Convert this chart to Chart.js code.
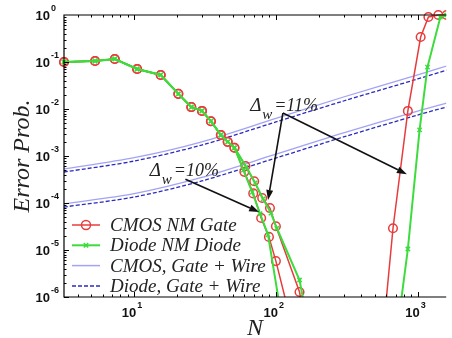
<!DOCTYPE html>
<html>
<head>
<meta charset="utf-8">
<script src="https://cdn.jsdelivr.net/npm/chart.js@4.4.1/dist/chart.umd.min.js"></script>
<style>
  html, body { margin: 0; padding: 0; background: #fff; overflow: hidden; }
  #wrap { width: 452px; height: 338px; }
</style>
</head>
<body>
<div id="wrap"><canvas id="errChart" width="452" height="338"></canvas></div>
<script>
// shared low-N part of the noise-margin curves
const nCommon = [3.2, 5.3, 7.3, 10.5, 15.4, 20.5, 25.3, 30.1, 34.8, 40.9, 45.7, 51];
const pCommon = [0.1, 0.105, 0.116, 0.071, 0.053, 0.021, 0.011, 0.0091, 0.0055, 0.0028, 0.002, 0.0015];

// tails, Δw = 10% and 11%
const nCmos10 = [59.9, 69.2, 78.7, 89.3, 100, 123];
const pCmos10 = [4.6e-4, 1.6e-4, 4.8e-5, 1.9e-5, 5.8e-6, 4.8e-7];
const nCmos11 = [61, 70.3, 80, 90.8, 100, 146.8, 154];
const pCmos11 = [6.1e-4, 2.9e-4, 1.28e-4, 7.8e-5, 3.2e-5, 1.28e-6, 5.4e-7];
const nDiode10 = [59, 68.1, 77.4, 88, 108];
const pDiode10 = [5.0e-4, 1.71e-4, 5.9e-5, 2.1e-5, 4.8e-7];
const nDiode11 = [61.9, 71.4, 81.3, 92.3, 101.6, 146.8, 161];
const pDiode11 = [5.8e-4, 2.67e-4, 1.22e-4, 6.1e-5, 2.9e-5, 2.3e-6, 5.3e-7];

// high-N rise
const nCmosHigh = [590, 670, 853, 1050, 1191, 1399, 1600];
const pCmosHigh = [5e-7, 2.9e-5, 9.1e-3, 0.34, 0.906, 1.0, 1.0];
const nDiodeHigh = [750, 853, 1032, 1173, 1445, 1600];
const pDiodeHigh = [5.3e-7, 1.05e-5, 3.6e-3, 0.078, 0.9, 1.0];

// gate + wire curves
const nWire = [3.2, 10, 30, 100, 300, 1000, 1700];
const pCmosWire11 = [5.3e-4, 9.2e-4, 2.0e-3, 6.3e-3, 0.018, 0.053, 0.087];
const pDiodeWire11 = [4.57e-4, 7.8e-4, 1.71e-3, 5.3e-3, 0.0148, 0.0435, 0.071];
const pCmosWire10 = [9.6e-5, 1.58e-4, 3.5e-4, 1.09e-3, 3.1e-3, 9.0e-3, 0.014];
const pDiodeWire10 = [8.2e-5, 1.34e-4, 2.94e-4, 9.06e-4, 2.54e-3, 7.45e-3, 0.0116];

const legendLabels = ['CMOS NM Gate', 'Diode NM Diode', 'CMOS, Gate + Wire', 'Diode, Gate + Wire'];
const yDecades = [-6, -5, -4, -3, -2, -1, 0];
const xDecades = [1, 2, 3];

const RED = '#e83c3c';
const GREEN = '#3ddc3d';
const LIGHT = '#a3a3f5';
const DARK = '#2b2bc0';

function pts(ns, ps) { return ns.map((n, i) => ({x: n, y: ps[i]})); }
const hideLow = c => (c.raw && (c.raw.y < 1e-6) ? 0 : 4.3);
const hideLowX = c => (c.raw && (c.raw.y < 1e-6) ? 0 : 3);
const clipBox = {left: 6, top: 6, right: 0, bottom: 0};

function nmSet(ns, ps, color, isCmos) {
    return {
        data: pts(ns, ps),
        borderColor: color,
        backgroundColor: 'rgba(0,0,0,0)',
        borderWidth: isCmos ? 1.5 : 2,
        pointStyle: isCmos ? 'circle' : 'crossRot',
        pointRadius: isCmos ? hideLow : hideLowX,
        pointBorderColor: color,
        pointBorderWidth: 1.5,
        pointBackgroundColor: 'rgba(0,0,0,0)',
        order: isCmos ? 2 : 1,
        clip: clipBox
    };
}
function wireSet(ps, dashed) {
    return {
        data: pts(nWire, ps),
        borderColor: dashed ? DARK : LIGHT,
        borderWidth: 1.3,
        borderDash: dashed ? [4, 2] : [],
        pointRadius: 0,
        tension: 0.3,
        order: 3
    };
}

const datasets = [
    nmSet(nCommon.concat(nCmos10), pCommon.concat(pCmos10), RED, true),
    nmSet(nCommon.concat(nCmos11), pCommon.concat(pCmos11), RED, true),
    nmSet(nCmosHigh, pCmosHigh, RED, true),
    nmSet(nCommon.concat(nDiode10), pCommon.concat(pDiode10), GREEN, false),
    nmSet(nCommon.concat(nDiode11), pCommon.concat(pDiode11), GREEN, false),
    nmSet(nDiodeHigh, pDiodeHigh, GREEN, false),
    wireSet(pCmosWire11, false),
    wireSet(pDiodeWire11, true),
    wireSet(pCmosWire10, false),
    wireSet(pDiodeWire10, true)
];

function arrow(ctx, x1, y1, x2, y2) {
    const ang = Math.atan2(y2 - y1, x2 - x1);
    const L = 10, W = 3.5;
    ctx.beginPath();
    ctx.moveTo(x1, y1);
    ctx.lineTo(x2 - L * Math.cos(ang), y2 - L * Math.sin(ang));
    ctx.stroke();
    ctx.beginPath();
    ctx.moveTo(x2, y2);
    ctx.lineTo(x2 - L * Math.cos(ang) + W * Math.sin(ang), y2 - L * Math.sin(ang) - W * Math.cos(ang));
    ctx.lineTo(x2 - L * Math.cos(ang) - W * Math.sin(ang), y2 - L * Math.sin(ang) + W * Math.cos(ang));
    ctx.closePath();
    ctx.fill();
}

function deltaLabel(ctx, x, y, pct) {
    ctx.fillStyle = '#222';
    ctx.textAlign = 'left';
    ctx.textBaseline = 'alphabetic';
    ctx.font = 'italic 19px "Liberation Serif"';
    ctx.fillText('Δ', x, y);
    ctx.font = 'italic 15px "Liberation Serif"';
    ctx.fillText('w', x + 12, y + 8);
    ctx.font = 'italic 18px "Liberation Serif"';
    ctx.fillText('=' + pct, x + 24, y);
}

const framePlugin = {
    id: 'frame',
    afterDraw(chart) {
        const {ctx, chartArea: a, scales: {x, y}} = chart;
        ctx.save();
        ctx.strokeStyle = '#000';
        ctx.lineWidth = 1.2;
        ctx.beginPath();
        ctx.moveTo(a.right, a.top); ctx.lineTo(a.left, a.top);
        ctx.lineTo(a.left, a.bottom); ctx.lineTo(a.right, a.bottom);
        ctx.stroke();

        // inward ticks
        ctx.lineWidth = 1;
        ctx.beginPath();
        for (let d = -6; d < 0; d++) {
            for (let m = 1; m <= 9; m++) {
                const v = m * Math.pow(10, d);
                const py = Math.round(y.getPixelForValue(v)) + 0.5;
                const len = m === 1 ? 5 : 2.5;
                ctx.moveTo(a.left, py); ctx.lineTo(a.left + len, py);
            }
        }
        for (let d = 0; d <= 3; d++) {
            for (let m = 1; m <= 9; m++) {
                const v = m * Math.pow(10, d);
                if (v < x.min || v > x.max) continue;
                const px = Math.round(x.getPixelForValue(v)) + 0.5;
                const len = m === 1 ? 5 : 2.5;
                ctx.moveTo(px, a.bottom); ctx.lineTo(px, a.bottom - len);
                ctx.moveTo(px, a.top); ctx.lineTo(px, a.top + len);
            }
        }
        ctx.stroke();

        // tick labels with superscripts
        ctx.fillStyle = '#111';
        yDecades.forEach(d => {
            const py = y.getPixelForValue(Math.pow(10, d));
            ctx.font = 'bold 13px "Liberation Sans"';
            ctx.textAlign = 'right';
            ctx.textBaseline = 'middle';
            ctx.fillText('10', a.left - 14, py + 1);
            ctx.font = 'bold 9px "Liberation Sans"';
            ctx.textAlign = 'left';
            ctx.fillText(d === 0 ? '0' : '-' + (-d), a.left - 13, py - 6);
        });
        xDecades.forEach(d => {
            const px = x.getPixelForValue(Math.pow(10, d));
            ctx.font = 'bold 13px "Liberation Sans"';
            ctx.textAlign = 'right';
            ctx.textBaseline = 'middle';
            ctx.fillText('10', px + 2, a.bottom + 16);
            ctx.font = 'bold 9px "Liberation Sans"';
            ctx.textAlign = 'left';
            ctx.fillText(String(d), px + 3, a.bottom + 9);
        });

        // legend
        const sty = [
            {c: RED, dash: [], w: 1.5, mk: 'o'},
            {c: GREEN, dash: [], w: 2, mk: 'x'},
            {c: LIGHT, dash: [], w: 1.5, mk: ''},
            {c: DARK, dash: [4, 2], w: 1.5, mk: ''}
        ];
        legendLabels.forEach((lab, i) => {
            const ly = a.bottom - 72 + i * 20.3;
            const s = sty[i];
            ctx.strokeStyle = s.c;
            ctx.lineWidth = s.w;
            ctx.setLineDash(s.dash);
            ctx.beginPath();
            ctx.moveTo(a.left + 8, ly); ctx.lineTo(a.left + 36, ly);
            ctx.stroke();
            ctx.setLineDash([]);
            const cx = a.left + 22;
            if (s.mk === 'o') {
                ctx.beginPath(); ctx.arc(cx, ly, 4.5, 0, Math.PI * 2); ctx.stroke();
            } else if (s.mk === 'x') {
                ctx.lineWidth = 1.5;
                ctx.beginPath();
                ctx.moveTo(cx - 2.2, ly - 2.2); ctx.lineTo(cx + 2.2, ly + 2.2);
                ctx.moveTo(cx - 2.2, ly + 2.2); ctx.lineTo(cx + 2.2, ly - 2.2);
                ctx.stroke();
            }
            ctx.fillStyle = '#222';
            ctx.font = 'italic 19px "Liberation Serif"';
            ctx.textAlign = 'left';
            ctx.textBaseline = 'middle';
            ctx.fillText(lab, a.left + 46, ly + 1);
        });

        // annotations
        ctx.strokeStyle = '#111';
        ctx.fillStyle = '#111';
        ctx.lineWidth = 1.6;
        const P = (n, p) => [x.getPixelForValue(n), y.getPixelForValue(p)];
        const [ax, ay] = P(112, 8.2e-3);
        const [bx, by] = P(88, 1.16e-4);
        const [cx2, cy2] = P(839, 4.1e-4);
        arrow(ctx, ax, ay, bx, by);
        arrow(ctx, ax, ay, cx2, cy2);
        const [dx, dy] = P(23, 3.2e-4);
        const [ex, ey] = P(76.2, 6.4e-5);
        arrow(ctx, dx, dy, ex, ey);
        const [t1x, t1y] = P(65.9, 9.1e-3);
        deltaLabel(ctx, t1x, t1y, '11%');
        const [t2x, t2y] = P(12.9, 3.75e-4);
        deltaLabel(ctx, t2x, t2y, '10%');
        ctx.restore();
    }
};

new Chart(document.getElementById('errChart'), {
    type: 'line',
    data: {datasets: datasets},
    plugins: [framePlugin],
    options: {
        responsive: false,
        animation: false,
        devicePixelRatio: 1,
        layout: {padding: {top: 15, right: 0, left: 0, bottom: 0}},
        plugins: {legend: {display: false}, tooltip: {enabled: false}},
        scales: {
            x: {
                type: 'logarithmic',
                min: 3.2, max: 1590,
                grid: {display: false},
                border: {display: false},
                ticks: {display: false},
                afterFit: s => { s.height = 41; },
                title: {
                    display: true, text: 'N', color: '#222',
                    font: {family: 'Liberation Serif', style: 'italic', size: 24, lineHeight: 0.8},
                    padding: {top: 0, bottom: 0}
                }
            },
            y: {
                type: 'logarithmic',
                min: 1e-6, max: 1,
                grid: {display: false},
                border: {display: false},
                ticks: {display: false},
                afterFit: s => { s.width = 64; },
                title: {
                    display: true, text: 'Error Prob.', color: '#222',
                    font: {family: 'Liberation Serif', style: 'italic', size: 24},
                    padding: {top: 8, bottom: 0}
                }
            }
        }
    }
});
</script>
</body>
</html>
